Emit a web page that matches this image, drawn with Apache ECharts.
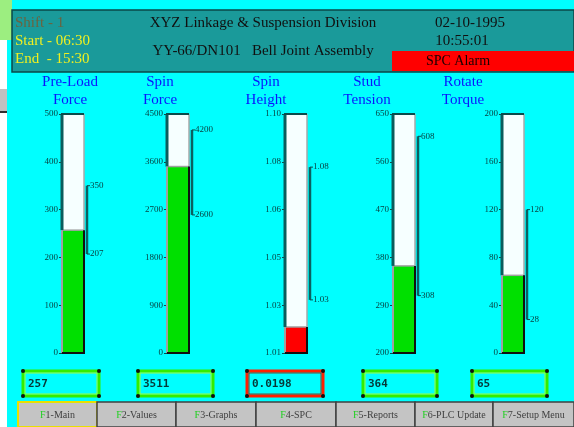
<!DOCTYPE html>
<html><head><meta charset="utf-8">
<script src="https://cdn.jsdelivr.net/npm/echarts@6/dist/echarts.min.js"></script>
<style>html,body{margin:0;padding:0;background:#00ffff;}#c{width:574px;height:427px;}</style>
</head><body><div id="c"></div>
<script>
// ---- data ----
const gaugeTitles = ['Pre-Load\nForce', 'Spin\nForce', 'Spin\nHeight', 'Stud\nTension', 'Rotate\nTorque'];
const axisMin = [0, 0, 1.01, 200, 0];
const axisMax = [500, 4500, 1.10, 650, 200];
const axisStep = [100, 900, 0.018, 90, 40];
const axisDecimals = [0, 0, 2, 0, 0];
const values = [257, 3511, 1.0198, 364, 65];
const upperLimits = [350, 4200, 1.08, 608, 120];
const lowerLimits = [207, 2600, 1.03, 308, 28];
const valueTexts = ['257', '3511', '0.0198', '364', '65'];
const headerLeft = ['Shift - 1', 'Start - 06:30', 'End  - 15:30'];
const headerCenter = ['XYZ Linkage & Suspension Division', 'YY-66/DN101   Bell Joint Assembly'];
const headerRight = ['02-10-1995', '10:55:01'];
const alarmText = 'SPC Alarm';
const buttons = ['1-Main', '2-Values', '3-Graphs', '4-SPC', '5-Reports', '6-PLC Update', '7-Setup Menu'];

// ---- layout ----
const tubeLeft = [62, 167, 285, 393, 502];
const tubeW = 22, tubeTop = 114, tubeH = 239;
const titleX = [70, 160, 266, 367, 463];
const boxX = [[23, 99], [138, 213], [247, 323], [363, 437], [472, 547]];
const btnX = [18, 97, 176, 256, 336, 415, 493, 574];
const SERIF = '"Liberation Serif", "DejaVu Serif", serif';

const chart = echarts.init(document.getElementById('c'), null, {renderer: 'canvas'});

const grids = [], xAxes = [], yAxes = [], series = [];
for (let i = 0; i < 5; i++) {
  grids.push({left: tubeLeft[i], top: tubeTop, width: tubeW, height: tubeH, containLabel: false});
  xAxes.push({type: 'value', gridIndex: i, min: 0, max: 1, show: false});
  yAxes.push({
    type: 'value', gridIndex: i, min: axisMin[i], max: axisMax[i], interval: axisStep[i],
    axisLine: {show: false}, splitLine: {show: false},
    axisTick: {show: true, length: 3, lineStyle: {color: '#0a4a4a', width: 1}},
    axisLabel: {show: true, margin: 4, fontFamily: SERIF, fontSize: 9, color: '#083c3c',
      formatter: (v) => Number(v).toFixed(axisDecimals[i])}
  });
  const idx = i;
  series.push({
    type: 'custom', xAxisIndex: i, yAxisIndex: i, clip: false,
    data: [[0, values[i]]],
    renderItem: function (params, api) {
      const tl = api.coord([0, axisMax[idx]]);
      const bl = api.coord([0, axisMin[idx]]);
      const rx = api.coord([1, axisMin[idx]])[0];
      const lx = tl[0], ty = tl[1], by = bl[1];
      const vy = api.coord([0, api.value(1)])[1];
      const uy = api.coord([0, upperLimits[idx]])[1];
      const ly = api.coord([0, lowerLimits[idx]])[1];
      const v = api.value(1);
      const bad = v < lowerLimits[idx] || v > upperLimits[idx];
      const fill = bad ? '#ff0000' : '#00e000';
      const ln = (x1, y1, x2, y2, c, w) => ({type: 'line', shape: {x1, y1, x2, y2}, style: {stroke: c, lineWidth: w}});
      const lim = rx + 3;
      return {type: 'group', children: [
        {type: 'rect', shape: {x: lx, y: ty, width: rx - lx, height: by - ty}, style: {fill: '#f6ffff'}},
        {type: 'rect', shape: {x: lx, y: vy, width: rx - lx, height: by - vy}, style: {fill: fill}},
        ln(lx, vy, rx, vy, '#a0a0a0', 1.5),
        ln(lx, ty, lx, vy, '#0b5c5c', 3),
        ln(lx, vy, lx, by, '#a0a0a0', 2),
        ln(rx, ty, rx, vy, '#a8a8a8', 1.5),
        ln(rx, vy, rx, by, '#101010', 2),
        ln(lx - 1, ty, rx, ty, '#0b4c4c', 2),
        ln(lx, by, rx + 1, by, '#101010', 2),
        ln(lim, uy, lim, ly, '#0b6060', 2.5),
        ln(lim, uy, lim + 3, uy, '#0b4c4c', 1),
        ln(lim, ly, lim + 3, ly, '#0b4c4c', 1),
        {type: 'text', style: {x: lim + 3, y: uy, text: String(upperLimits[idx]), fill: '#083c3c', font: '9px ' + SERIF, textVerticalAlign: 'middle'}},
        {type: 'text', style: {x: lim + 3, y: ly, text: String(lowerLimits[idx]), fill: '#083c3c', font: '9px ' + SERIF, textVerticalAlign: 'middle'}}
      ]};
    }
  });
}

// decorative screen elements
const g = [];
g.push({type: 'rect', shape: {x: 0, y: 0, width: 7, height: 427}, style: {fill: '#ffffff'}, z: 0});
g.push({type: 'rect', shape: {x: 0, y: 0, width: 12, height: 40}, style: {fill: '#9cee80'}, z: 0});
g.push({type: 'rect', shape: {x: 0, y: 89, width: 7, height: 24}, style: {fill: '#c0c0c0'}, z: 0});
g.push({type: 'rect', shape: {x: 0, y: 111, width: 7, height: 2}, style: {fill: '#303030'}, z: 0});
// header
g.push({type: 'rect', shape: {x: 12, y: 10, width: 562, height: 62}, style: {fill: '#1a9a9a', stroke: '#0a4848', lineWidth: 1.5}});
g.push({type: 'rect', shape: {x: 392, y: 51, width: 182, height: 20}, style: {fill: '#ff0000'}});
g.push({type: 'text', style: {x: 458, y: 61, text: alarmText, fill: '#1a0000', font: '14px ' + SERIF, textAlign: 'center', textVerticalAlign: 'middle'}});
const hlColors = ['#6a6440', '#f0f020', '#f0f020'];
const hlY = [23, 41, 59];
headerLeft.forEach((t, k) => g.push({type: 'text', style: {x: 15, y: hlY[k], text: t, fill: hlColors[k], font: '15px ' + SERIF, textVerticalAlign: 'middle'}}));
const hcY = [23, 51];
headerCenter.forEach((t, k) => g.push({type: 'text', style: {x: 263, y: hcY[k], text: t, fill: '#101010', font: '15px ' + SERIF, textAlign: 'center', textVerticalAlign: 'middle'}}));
const hrY = [23, 41], hrX = [470, 462];
headerRight.forEach((t, k) => g.push({type: 'text', style: {x: hrX[k], y: hrY[k], text: t, fill: '#101010', font: '15px ' + SERIF, textAlign: 'center', textVerticalAlign: 'middle'}}));
// gauge titles
gaugeTitles.forEach((t, k) => {
  t.split('\n').forEach((line, r) => g.push({type: 'text', style: {x: titleX[k], y: 82 + r * 18, text: line, fill: '#0a14ff', font: '15px ' + SERIF, textAlign: 'center', textVerticalAlign: 'middle'}}));
});
// value boxes
valueTexts.forEach((t, k) => {
  const [x1, x2] = boxX[k];
  const bad = values[k] < lowerLimits[k] || values[k] > upperLimits[k];
  g.push({type: 'rect', shape: {x: x1, y: 371, width: x2 - x1, height: 25}, style: {fill: '#00ffff', stroke: bad ? '#ff2000' : '#33ee00', lineWidth: 3}});
  g.push({type: 'rect', shape: {x: x1 + 2, y: 373, width: x2 - x1 - 4, height: 21}, style: {fill: 'none', stroke: bad ? '#802000' : '#c8ff00', lineWidth: 0.8}});
  [[x1, 371], [x2, 371], [x1, 396], [x2, 396]].forEach(p => g.push({type: 'circle', shape: {cx: p[0], cy: p[1], r: 2}, style: {fill: '#101010'}}));
  g.push({type: 'text', style: {x: x1 + 5, y: 384, text: t, fill: '#063838', font: 'bold 11px "DejaVu Sans Mono", monospace', textVerticalAlign: 'middle'}});
});
// buttons
buttons.forEach((t, k) => {
  const x1 = btnX[k], x2 = btnX[k + 1];
  g.push({type: 'rect', shape: {x: x1, y: 402, width: x2 - x1, height: 25}, style: {fill: '#c4c4c4', stroke: k === 0 ? '#e8e000' : '#404040', lineWidth: k === 0 ? 2 : 1.5}});
  g.push({type: 'text', style: {x: (x1 + x2) / 2, y: 415, text: '{f|F}{r|' + t + '}', textAlign: 'center', textVerticalAlign: 'middle',
    rich: {f: {fill: '#20d020', font: '10px ' + SERIF}, r: {fill: '#404040', font: '10px ' + SERIF}}}});
});

chart.setOption({
  backgroundColor: '#00ffff',
  animation: false,
  grid: grids, xAxis: xAxes, yAxis: yAxes, series: series,
  graphic: {elements: g}
});
</script>
</body></html>
